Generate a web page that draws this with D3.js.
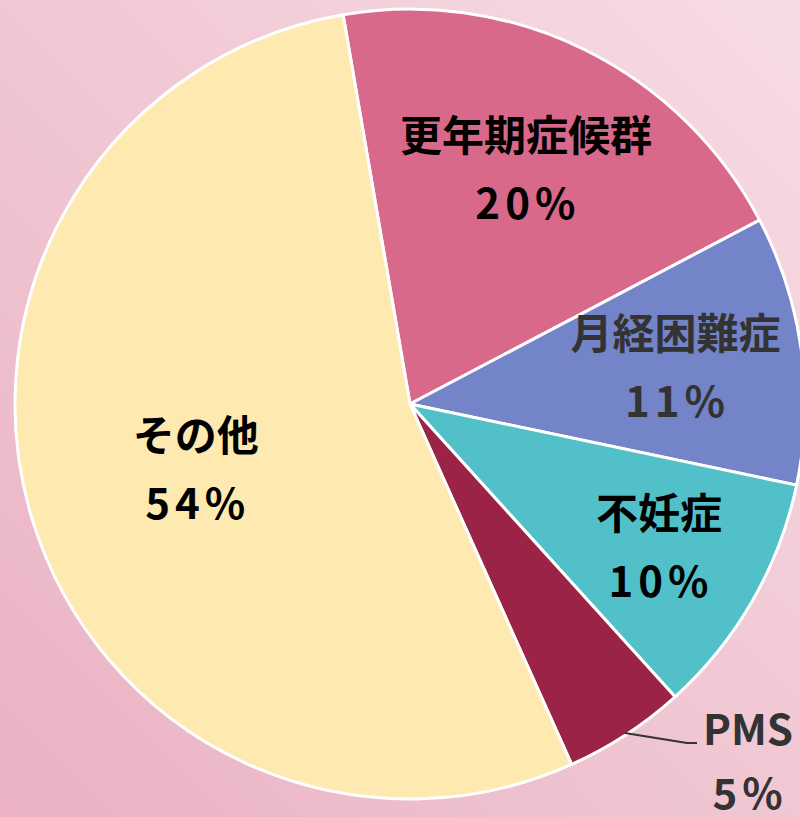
<!DOCTYPE html>
<html>
<head>
<meta charset="utf-8">
<script src="https://cdn.jsdelivr.net/npm/d3@7"></script>
<style>
  body { margin: 0; }
  svg { display: block; }
  text { font-family: "Noto Sans CJK JP", "Noto Sans", sans-serif; font-weight: bold; }
</style>
</head>
<body>
<svg width="800" height="817"></svg>
<script>
// data
var labels = ["更年期症候群", "月経困難症", "不妊症", "PMS", "その他"];
var values = [20, 11, 10, 5, 54];
var colors = ["#d9698a", "#7484c8", "#52c0c8", "#9b2446", "#fee9b0"];
var textColors = ["#000", "#333", "#000", "#333", "#000"];

var svg = d3.select("svg"),
    width = +svg.attr("width"),
    height = +svg.attr("height");

// background gradient
var defs = svg.append("defs");
var grad = defs.append("linearGradient")
    .attr("id", "bg")
    .attr("x1", "100%").attr("y1", "0%")
    .attr("x2", "0%").attr("y2", "100%");
grad.append("stop").attr("offset", "0%").attr("stop-color", "#f7dce4");
grad.append("stop").attr("offset", "100%").attr("stop-color", "#eab2c3");

svg.append("rect")
    .attr("width", width)
    .attr("height", height)
    .attr("fill", "url(#bg)");

var cx = 410, cy = 404, radius = 395;
var startDeg = -9.75;

var pie = d3.pie()
    .sort(null)
    .value(function(d) { return d; })
    .startAngle(startDeg * Math.PI / 180)
    .endAngle((startDeg + 360) * Math.PI / 180);

var arc = d3.arc().innerRadius(0).outerRadius(radius);

var arcs = pie(values);

var g = svg.append("g")
    .attr("transform", "translate(" + cx + "," + cy + ")");

g.selectAll("path")
    .data(arcs)
    .enter().append("path")
      .attr("d", arc)
      .attr("fill", function(d, i) { return colors[i]; })
      .attr("stroke", "#fff")
      .attr("stroke-width", 3)
      .attr("stroke-linejoin", "round");

// label radius per slice (Excel "best fit" style placement)
var labelR = [262, 268, 287, 0, 224];

var fmt = function(v) { return v + "%"; };

arcs.forEach(function(d, i) {
  if (labels[i] === "PMS") return;
  var a = (d.startAngle + d.endAngle) / 2;
  var x = Math.sin(a) * labelR[i],
      y = -Math.cos(a) * labelR[i];
  var t = g.append("text")
      .attr("text-anchor", "middle")
      .attr("fill", textColors[i])
      .attr("font-size", 42);
  t.append("tspan").attr("x", x).attr("y", y - 18).text(labels[i]);
  t.append("tspan").attr("x", x + 2).attr("y", y + 50).attr("letter-spacing", 5).text(fmt(values[i]));
});

// PMS label outside with leader line
(function() {
  var i = labels.indexOf("PMS");
  var d = arcs[i];
  var a = (d.startAngle + d.endAngle) / 2;
  var p0 = [Math.sin(a) * (radius - 2), -Math.cos(a) * (radius - 2)];
  var tx = 338, ty = 341;
  g.append("polyline")
      .attr("points", [p0, [tx - 61, ty - 2], [tx - 51, ty - 2]].map(function(p) { return p.join(","); }).join(" "))
      .attr("fill", "none")
      .attr("stroke", "#333")
      .attr("stroke-width", 2);
  var t = g.append("text")
      .attr("text-anchor", "middle")
      .attr("fill", textColors[i])
      .attr("font-size", 42);
  t.append("tspan").attr("x", tx).attr("y", ty).text(labels[i]);
  t.append("tspan").attr("x", tx + 2).attr("y", ty + 64).attr("letter-spacing", 5).text(fmt(values[i]));
})();
</script>
</body>
</html>
